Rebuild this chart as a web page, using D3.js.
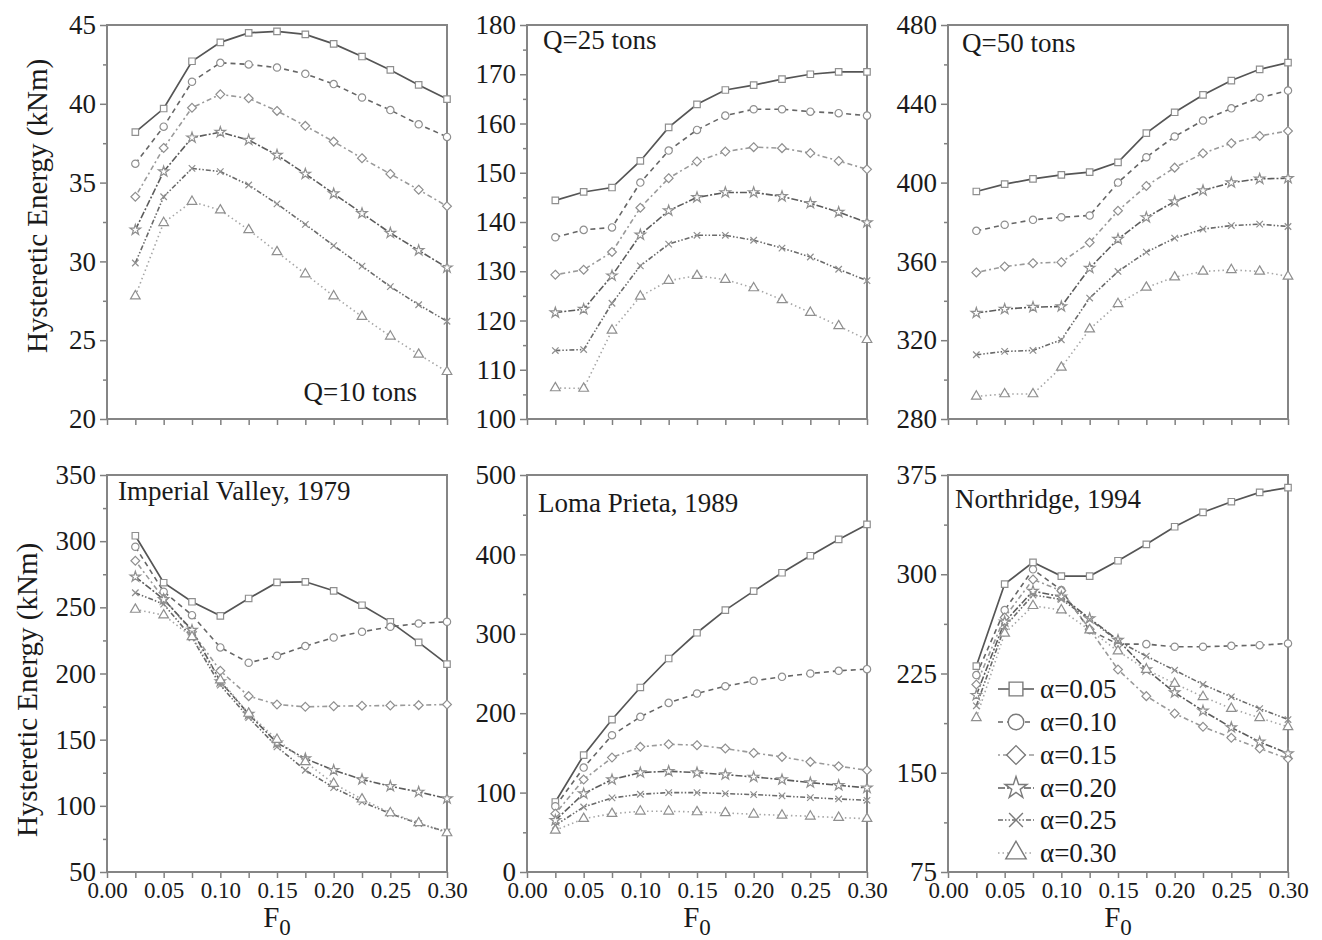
<!DOCTYPE html>
<html>
<head>
<meta charset="utf-8">
<script src="https://cdnjs.cloudflare.com/ajax/libs/d3/7.8.5/d3.min.js"></script>
<style>
  body { margin: 0; background: #fff; }
  svg { display: block; font-family: "Liberation Serif", "Times New Roman", serif; }
  .tick line { stroke: #808080; stroke-width: 1.5; }
</style>
</head>
<body>
<div id="chart"></div>
<script>
// F0 values shared by every panel
const f0 = [0.025, 0.05, 0.075, 0.10, 0.125, 0.15, 0.175, 0.20, 0.225, 0.25, 0.275, 0.30];
const alphaLabels = ["α=0.05", "α=0.10", "α=0.15", "α=0.20", "α=0.25", "α=0.30"];

// rows = alpha 0.05 .. 0.30
const q10 = [
  [38.2, 39.7, 42.7, 43.9, 44.5, 44.6, 44.4, 43.8, 43.0, 42.15, 41.2, 40.3],
  [36.2, 38.55, 41.4, 42.6, 42.5, 42.3, 41.9, 41.25, 40.4, 39.6, 38.7, 37.9],
  [34.1, 37.2, 39.75, 40.6, 40.35, 39.55, 38.6, 37.6, 36.55, 35.55, 34.55, 33.5],
  [32.0, 35.7, 37.85, 38.2, 37.7, 36.75, 35.55, 34.3, 33.05, 31.8, 30.7, 29.6],
  [29.9, 34.1, 35.9, 35.7, 34.85, 33.65, 32.35, 31.0, 29.7, 28.4, 27.25, 26.2],
  [27.8, 32.45, 33.8, 33.25, 32.0, 30.6, 29.2, 27.8, 26.5, 25.25, 24.1, 23.0]
];
const q25 = [
  [144.4, 146.1, 147.0, 152.4, 159.2, 163.9, 166.8, 167.8, 169.0, 170.0, 170.5, 170.5],
  [136.9, 138.4, 138.9, 148.0, 154.5, 158.7, 161.6, 162.9, 162.9, 162.4, 162.1, 161.6],
  [129.3, 130.3, 133.9, 142.9, 148.9, 152.3, 154.3, 155.2, 155.0, 154.0, 152.4, 150.7],
  [121.6, 122.3, 129.1, 137.4, 142.3, 145.0, 146.0, 146.0, 145.2, 143.8, 142.0, 139.9],
  [113.9, 114.1, 123.5, 131.1, 135.5, 137.3, 137.3, 136.3, 134.7, 132.9, 130.4, 128.1],
  [106.3, 106.2, 118.0, 124.9, 128.1, 129.1, 128.3, 126.6, 124.2, 121.6, 118.9, 116.1]
];
const q50 = [
  [395.5, 399.2, 401.9, 403.9, 405.3, 410.3, 425.1, 435.7, 444.5, 451.8, 457.5, 460.9],
  [375.5, 378.6, 381.1, 382.4, 383.3, 400.0, 412.9, 423.4, 431.5, 437.7, 443.1, 446.7],
  [354.4, 357.4, 359.1, 359.6, 369.6, 385.7, 398.3, 407.6, 414.9, 420.0, 423.7, 426.2],
  [333.8, 335.8, 336.8, 337.1, 356.6, 371.3, 382.3, 390.4, 396.0, 400.0, 401.9, 402.2],
  [312.6, 314.3, 314.8, 320.2, 341.4, 354.9, 364.7, 371.8, 376.4, 378.2, 378.9, 377.7],
  [291.5, 292.7, 292.7, 306.2, 325.6, 338.5, 346.8, 352.0, 354.9, 355.7, 354.9, 352.4]
];
const imperial = [
  [304.1, 268.6, 254.2, 243.6, 256.7, 268.8, 269.3, 262.5, 251.6, 239.0, 223.5, 207.1],
  [295.8, 261.8, 244.1, 219.7, 208.1, 213.4, 220.7, 227.2, 231.5, 235.3, 237.8, 239.1],
  [285.2, 256.7, 231.5, 202.0, 182.9, 176.6, 174.8, 175.3, 175.6, 175.8, 176.1, 176.6],
  [273.1, 256.0, 232.8, 194.0, 169.3, 147.6, 135.7, 126.9, 119.9, 114.8, 110.5, 105.5],
  [261.0, 252.4, 227.0, 191.2, 166.7, 144.6, 126.9, 113.8, 103.0, 94.1, 86.6, 80.3],
  [248.4, 244.1, 227.7, 195.0, 169.8, 150.1, 133.2, 116.8, 105.0, 94.6, 87.1, 79.5]
];
const loma = [
  [88.2, 147.1, 192.0, 232.4, 268.9, 301.3, 329.8, 353.8, 376.9, 398.3, 418.9, 437.8],
  [82.8, 131.5, 172.3, 195.4, 213.0, 224.8, 234.0, 240.8, 245.8, 250.0, 253.4, 255.5],
  [73.5, 116.4, 144.1, 157.6, 160.9, 159.7, 155.5, 150.0, 145.0, 138.7, 133.2, 128.2],
  [65.1, 98.7, 116.4, 125.2, 126.9, 125.2, 122.7, 119.7, 116.4, 112.6, 109.2, 105.9],
  [58.8, 81.9, 93.3, 97.9, 100.0, 100.0, 98.7, 97.5, 95.8, 93.7, 92.0, 90.3],
  [52.5, 67.2, 73.5, 76.5, 76.5, 75.6, 74.4, 72.7, 71.4, 70.2, 68.5, 67.2]
];
const northridge = [
  [230.6, 292.6, 309.0, 298.6, 298.6, 310.2, 322.6, 335.9, 346.8, 354.8, 361.9, 365.4],
  [223.8, 272.9, 303.7, 288.0, 257.8, 247.2, 247.2, 245.2, 245.2, 245.9, 246.4, 247.7],
  [216.7, 267.4, 296.1, 287.5, 258.5, 228.0, 207.9, 194.8, 184.7, 176.4, 168.3, 160.7],
  [208.6, 264.1, 287.3, 283.0, 266.6, 250.2, 228.0, 210.6, 196.8, 184.2, 173.3, 164.5],
  [200.6, 260.3, 284.3, 281.0, 265.9, 249.5, 238.1, 227.5, 216.7, 207.4, 198.5, 190.2],
  [191.5, 255.3, 276.2, 272.9, 257.8, 241.9, 228.0, 217.4, 207.4, 198.5, 191.5, 184.7]
];

const yDomains = [[20, 45], [100, 180], [280, 480], [50, 350], [0, 500], [75, 375]];
const yMajorSteps = [5, 10, 40, 50, 100, 75];
const panelTitles = ["Q=10 tons", "Q=25 tons", "Q=50 tons", "Imperial Valley, 1979", "Loma Prieta, 1989", "Northridge, 1994"];
const panelData = [q10, q25, q50, imperial, loma, northridge];

const w = 1322;
const h = 940;
const serif = "Liberation Serif";
const colLeft = [107, 527, 948];
const plotW = 340;
const rowTop = [25, 475];
const rowBottom = [419, 872];

// series styling
const lineColors = ["#555", "#666", "#9a9a9a", "#5c5c5c", "#6a6a6a", "#a6a6a6"];
const dashes = [null, "5,4", "2,3,5,3", "7,2,2,2", "5,2,1.5,2,1.5,2", "1.5,3"];
const markerColor = "#8f8f8f";

const diamond = {
  draw(ctx, size) {
    const r = Math.sqrt(size) * 0.68;
    ctx.moveTo(0, -r); ctx.lineTo(r, 0); ctx.lineTo(0, r); ctx.lineTo(-r, 0); ctx.closePath();
  }
};
const cross = {
  draw(ctx, size) {
    const r = Math.sqrt(size) * 0.5;
    ctx.moveTo(-r, -r); ctx.lineTo(r, r); ctx.moveTo(r, -r); ctx.lineTo(-r, r);
  }
};
const symbolTypes = [d3.symbolSquare, d3.symbolCircle, diamond, d3.symbolStar, cross, d3.symbolTriangle];
const markerSizes = [42, 42, 42, 34, 42, 40];
const legendSizes = [190, 190, 190, 150, 190, 180];

const svg = d3.select("#chart").append("svg").attr("width", w).attr("height", h);

panelData.forEach((series, p) => {
  const row = Math.floor(p / 3);
  const col = p % 3;
  const x0 = colLeft[col], x1 = colLeft[col] + plotW;
  const y0 = rowTop[row], y1 = rowBottom[row];

  const xScale = d3.scaleLinear().domain([0, 0.30]).range([x0, x1]);
  const yScale = d3.scaleLinear().domain(yDomains[p]).range([y1, y0]);

  const g = svg.append("g");

  // axes
  const [ymin, ymax] = yDomains[p];
  const step = yMajorSteps[p];
  const majors = d3.range(ymin, ymax + step / 2, step);
  const minors = d3.range(ymin + step / 2, ymax, step);

  g.append("g")
   .attr("transform", `translate(${x0},0)`)
   .call(d3.axisLeft(yScale).tickValues(minors).tickSize(4).tickFormat(""))
   .call(a => a.select(".domain").remove());

  const yAx = g.append("g")
   .attr("transform", `translate(${x0},0)`)
   .call(d3.axisLeft(yScale).tickValues(majors).tickSize(7).tickPadding(4));
  yAx.select(".domain").remove();
  yAx.attr("font-family", serif).attr("font-size", 27);
  yAx.selectAll("text").attr("font-family", serif).attr("fill", "#1a1a1a");

  const xTicks = d3.range(0, 13).map(i => i * 0.025);
  const xAx = g.append("g")
   .attr("transform", `translate(0,${y1})`)
   .call(d3.axisBottom(xScale).tickValues(xTicks).tickSize(6).tickPadding(4)
     .tickFormat(d => (row === 1 && Math.round(d * 1000) % 50 === 0) ? d3.format(".2f")(d) : ""));
  xAx.select(".domain").remove();
  xAx.attr("font-family", serif).attr("font-size", 23);
  xAx.selectAll("text").attr("font-family", serif).attr("fill", "#1a1a1a");

  g.append("rect")
   .attr("x", x0).attr("y", y0)
   .attr("width", x1 - x0).attr("height", y1 - y0)
   .attr("fill", "none")
   .attr("stroke", "#858585")
   .attr("stroke-width", 2);

  // lines
  const line = d3.line().x((d, i) => xScale(f0[i])).y(d => yScale(d));

  series.forEach((vals, s) => {
    g.append("path")
     .datum(vals)
     .attr("d", line)
     .attr("fill", "none")
     .attr("stroke", lineColors[s])
     .attr("stroke-width", s === 0 ? 1.7 : 1.6)
     .attr("stroke-dasharray", dashes[s]);
  });

  series.forEach((vals, s) => {
    g.selectAll(null)
     .data(vals)
     .enter()
     .append("path")
     .attr("transform", (d, i) => `translate(${xScale(f0[i])},${yScale(d)})`)
     .attr("d", d3.symbol().type(symbolTypes[s]).size(markerSizes[s]))
     .attr("fill", s === 4 ? "none" : "#fff")
     .attr("stroke", markerColor)
     .attr("stroke-width", 1.2);
  });

  // panel title
  const title = g.append("text")
   .attr("font-size", 27)
   .attr("fill", "#1a1a1a")
   .text(panelTitles[p]);
  if (p === 0) {
    title.attr("x", x1 - 30).attr("y", y1 - 18).attr("text-anchor", "end");
  } else if (p === 1) {
    title.attr("x", x0 + 16).attr("y", y0 + 24);
  } else if (p === 2) {
    title.attr("x", x0 + 14).attr("y", y0 + 27);
  } else if (p === 3) {
    title.attr("x", x0 + 11).attr("y", y0 + 25);
  } else if (p === 4) {
    title.attr("x", x0 + 11).attr("y", y0 + 37);
  } else {
    title.attr("x", x0 + 7).attr("y", y0 + 33);
  }

  // x label on bottom row
  if (row === 1) {
    const xl = g.append("text")
     .attr("x", (x0 + x1) / 2)
     .attr("y", 927)
     .attr("text-anchor", "middle")
     .attr("font-size", 29)
     .attr("fill", "#1a1a1a");
    xl.append("tspan").text("F");
    xl.append("tspan").attr("font-size", 23).attr("dy", 8).text("0");
  }
});

// y axis titles
[[37, 206], [27, 690]].forEach(([cx, cy]) => {
  svg.append("text")
     .attr("transform", `translate(${cx},${cy}) rotate(-90)`)
     .attr("text-anchor", "middle")
     .attr("dominant-baseline", "central")
     .attr("font-size", 29)
     .attr("fill", "#1a1a1a")
     .text("Hysteretic Energy (kNm)");
});

// legend in the Northridge panel
const legendRowsY = [689, 722, 755, 788, 820, 853];
const legend = svg.append("g");
alphaLabels.forEach((lab, s) => {
  const ly = legendRowsY[s];
  legend.append("line")
        .attr("x1", 998).attr("x2", 1034)
        .attr("y1", ly).attr("y2", ly)
        .attr("stroke", lineColors[s])
        .attr("stroke-width", 1.6)
        .attr("stroke-dasharray", dashes[s]);
  legend.append("path")
        .attr("transform", `translate(1016,${ly})`)
        .attr("d", d3.symbol().type(symbolTypes[s]).size(legendSizes[s]))
        .attr("fill", s === 4 ? "none" : "#fff")
        .attr("stroke", "#7a7a7a")
        .attr("stroke-width", 1.4);
  legend.append("text")
        .attr("x", 1040).attr("y", ly)
        .attr("dominant-baseline", "central")
        .attr("font-size", 27)
        .attr("fill", "#1a1a1a")
        .text(lab);
});
</script>
</body>
</html>
